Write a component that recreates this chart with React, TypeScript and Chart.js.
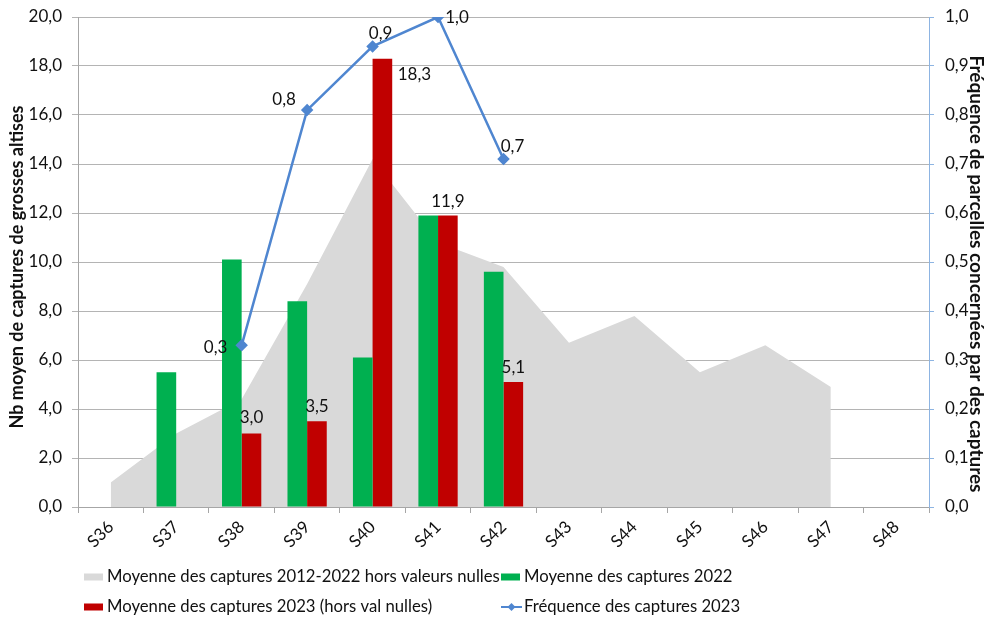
import { useEffect, useRef } from 'react';
import { Chart, registerables } from 'chart.js';

Chart.register(...registerables);

// Semaines de piégeage
const weeks = ['S36', 'S37', 'S38', 'S39', 'S40', 'S41', 'S42', 'S43', 'S44', 'S45', 'S46', 'S47', 'S48'];

// Moyenne des captures 2012-2022 hors valeurs nulles
const mean2012to2022 = [1.0, 3.0, 4.4, 9.1, 14.2, 10.8, 9.8, 6.7, 7.8, 5.5, 6.6, 4.9, null];
// Moyenne des captures 2022
const mean2022 = [null, 5.5, 10.1, 8.4, 6.1, 11.9, 9.6, null, null, null, null, null, null];
// Moyenne des captures 2023 (hors val nulles)
const mean2023 = [null, null, 3.0, 3.5, 18.3, 11.9, 5.1, null, null, null, null, null, null];
// Fréquence des captures 2023 (part des parcelles concernées)
const freq2023 = [null, null, 0.33, 0.81, 0.94, 1.0, 0.71, null, null, null, null, null, null];

const legendLabels = [
  'Moyenne des captures 2012-2022 hors valeurs nulles',
  'Moyenne des captures 2022',
  'Moyenne des captures 2023 (hors val nulles)',
  'Fréquence des captures 2023',
];

const leftTitle = 'Nb moyen de captures de grosses altises';
const rightTitle = 'Fréquence de parcelles concernées par des captures';

const FONT = 'Lato, "Open Sans", sans-serif';
const GREY = '#d9d9d9';
const GREEN = '#00b050';
const RED = '#c00000';
const BLUE = '#4f86d0';
const AXIS_BLUE = '#8db4e2';
const GRID = '#b4b4b4';
const TEXT = '#111';

const fr1 = (v: number) => v.toFixed(1).replace('.', ',');

// Étiquettes de valeur, décalées point par point
const valueLabels = {
  id: 'valueLabels',
  afterDatasetsDraw(chart: any) {
    const ctx = chart.ctx;
    ctx.save();
    ctx.font = `17px ${FONT}`;
    ctx.fillStyle = TEXT;
    ctx.textAlign = 'center';
    ctx.textBaseline = 'middle';
    chart.data.datasets.forEach((ds: any, di: number) => {
      const offsets = ds.labelOffsets;
      if (!offsets) return;
      const meta = chart.getDatasetMeta(di);
      meta.data.forEach((el: any, i: number) => {
        const v = ds.data[i];
        if (v == null) return;
        const off = offsets[i] || [0, -15];
        ctx.fillText(fr1(v), el.x + off[0], el.y + off[1]);
      });
    });
    ctx.restore();
  },
};

// Titres des deux axes verticaux
const axisTitles = {
  id: 'axisTitles',
  afterDraw(chart: any) {
    const ctx = chart.ctx;
    ctx.save();
    ctx.font = `bold 18px ${FONT}`;
    ctx.fillStyle = TEXT;
    ctx.textAlign = 'center';
    ctx.textBaseline = 'middle';
    ctx.translate(17, 267);
    ctx.rotate(-Math.PI / 2);
    ctx.fillText(leftTitle, 0, 0);
    ctx.restore();

    ctx.save();
    ctx.font = `bold 19px ${FONT}`;
    ctx.fillStyle = TEXT;
    ctx.textAlign = 'center';
    ctx.textBaseline = 'middle';
    ctx.translate(976, 274);
    ctx.rotate(Math.PI / 2);
    ctx.fillText(rightTitle, 0, 0);
    ctx.restore();
  },
};

// Légende en deux lignes sous le graphique
const bottomLegend = {
  id: 'bottomLegend',
  afterDraw(chart: any) {
    const ctx = chart.ctx;
    const cols = [84, 501];
    const rows = [577, 607];
    const items = [
      { kind: 'box', color: GREY },
      { kind: 'box', color: GREEN },
      { kind: 'box', color: RED },
      { kind: 'line', color: BLUE },
    ];
    ctx.save();
    ctx.font = `16.7px ${FONT}`;
    ctx.textBaseline = 'middle';
    ctx.textAlign = 'left';
    items.forEach((it, i) => {
      const x = cols[i % 2];
      const y = rows[Math.floor(i / 2)];
      if (it.kind === 'box') {
        ctx.fillStyle = it.color;
        ctx.fillRect(x, y - 3.5, 19, 7);
      } else {
        ctx.strokeStyle = it.color;
        ctx.lineWidth = 2;
        ctx.beginPath();
        ctx.moveTo(x, y);
        ctx.lineTo(x + 21, y);
        ctx.stroke();
        ctx.fillStyle = it.color;
        ctx.beginPath();
        ctx.moveTo(x + 10.5, y - 4);
        ctx.lineTo(x + 14.5, y);
        ctx.lineTo(x + 10.5, y + 4);
        ctx.lineTo(x + 6.5, y);
        ctx.closePath();
        ctx.fill();
      }
      ctx.fillStyle = TEXT;
      ctx.fillText(legendLabels[i], x + 23, y);
    });
    ctx.restore();
  },
};

export default function App() {
  const canvasRef = useRef<HTMLCanvasElement | null>(null);

  useEffect(() => {
    if (!canvasRef.current) return;
    Chart.defaults.font.family = FONT;
    const chart = new Chart(canvasRef.current, {
      type: 'bar',
      data: {
        labels: weeks,
        datasets: [
          {
            type: 'line',
            label: legendLabels[0],
            data: mean2012to2022,
            yAxisID: 'y',
            fill: 'origin',
            backgroundColor: GREY,
            borderWidth: 0,
            borderColor: GREY,
            pointRadius: 0,
            tension: 0,
            order: 3,
          },
          {
            type: 'bar',
            label: legendLabels[1],
            data: mean2022,
            yAxisID: 'y',
            backgroundColor: GREEN,
            order: 2,
          },
          {
            type: 'bar',
            label: legendLabels[2],
            data: mean2023,
            yAxisID: 'y',
            backgroundColor: RED,
            order: 2,
            labelOffsets: [null, null, [0, -16], [0, -15], [32, 16], [0, -14], [0, -15]],
          } as any,
          {
            type: 'line',
            label: legendLabels[3],
            data: freq2023,
            yAxisID: 'y1',
            borderColor: BLUE,
            backgroundColor: BLUE,
            borderWidth: 2.5,
            pointStyle: 'rectRot',
            pointRadius: 4.5,
            pointHoverRadius: 4.5,
            tension: 0,
            fill: false,
            order: 1,
            labelOffsets: [null, null, [-26, 2], [-23, -11], [8, -13], [19, 1], [9, -13]],
          } as any,
        ],
      },
      options: {
        animation: false,
        responsive: false,
        maintainAspectRatio: false,
        layout: { padding: { top: 17, bottom: 62, left: 0, right: 0 } },
        datasets: {
          bar: { categoryPercentage: 0.6, barPercentage: 1 },
        },
        plugins: {
          legend: { display: false },
          tooltip: { enabled: false },
        },
        scales: {
          x: {
            offset: true,
            grid: {
              offset: true,
              drawOnChartArea: false,
              drawTicks: true,
              tickLength: 6,
              color: '#a6a6a6',
            },
            border: { color: '#a6a6a6', width: 1 },
            ticks: {
              minRotation: 45,
              maxRotation: 45,
              padding: 4,
              color: TEXT,
              font: { size: 17, family: FONT },
            },
            afterFit(scale: any) {
              scale.height = 50;
            },
          },
          y: {
            position: 'left',
            min: 0,
            max: 20,
            ticks: {
              stepSize: 2,
              padding: 10,
              color: TEXT,
              font: { size: 17, family: FONT },
              callback: (v: any) => fr1(Number(v)),
            },
            grid: { color: GRID, lineWidth: 1, tickLength: 6 },
            border: { color: '#a6a6a6', width: 1 },
            afterFit(scale: any) {
              scale.width = 78;
              scale.paddingTop = 0;
              scale.paddingBottom = 0;
            },
          },
          y1: {
            position: 'right',
            min: 0,
            max: 1,
            ticks: {
              stepSize: 0.1,
              padding: 11,
              color: TEXT,
              font: { size: 17, family: FONT },
              callback: (v: any) => fr1(Number(v)),
            },
            grid: { drawOnChartArea: false, color: AXIS_BLUE, tickLength: 5 },
            border: { color: AXIS_BLUE, width: 1 },
            afterFit(scale: any) {
              scale.width = 61;
              scale.paddingTop = 0;
              scale.paddingBottom = 0;
            },
          },
        },
      },
      plugins: [valueLabels, axisTitles, bottomLegend],
    } as any);
    return () => chart.destroy();
  }, []);

  return (
    <div style={{ position: 'absolute', left: 0, top: 0, width: 990, height: 619, background: '#fff' }}>
      <canvas ref={canvasRef} width={990} height={619} style={{ width: 990, height: 619 }} />
    </div>
  );
}
